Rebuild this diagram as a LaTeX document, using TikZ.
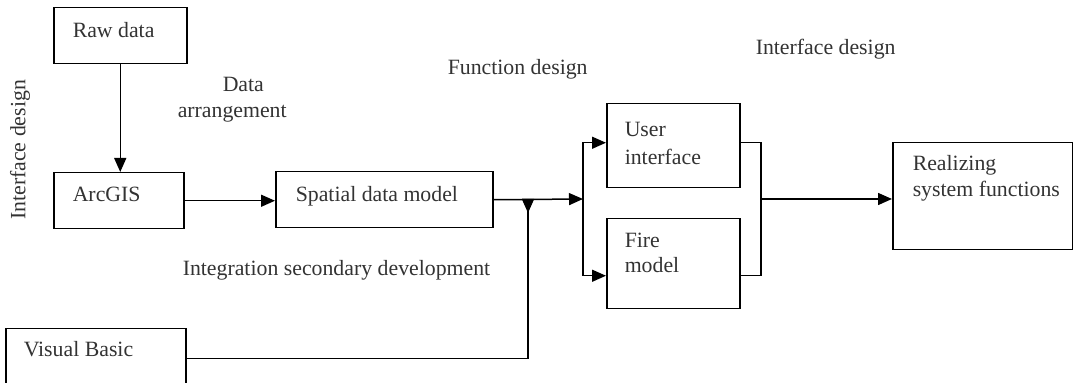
\documentclass[tikz,border=0pt]{standalone}
\usepackage{fontspec}
\setmainfont{Liberation Serif}
\usetikzlibrary{arrows.meta}
\definecolor{mytext}{gray}{0.2}
\begin{document}
\begin{tikzpicture}[x=0.5pt, y=-0.5pt, line width=0.75pt,
  box/.style={draw, anchor=north west, inner sep=0pt},
  lbl/.style={anchor=base west, text=mytext, inner sep=0pt, font=\fontsize{10.9}{13}\selectfont},
  arr/.style={-{Triangle[length=7pt, width=6pt]}},
  rarr/.style={-{Triangle[reversed, length=7pt, width=6pt]}}]
\useasboundingbox (0,0) rectangle (1073,383);
% boxes
\node[box, minimum width=66.5pt, minimum height=28pt] (raw) at (53,7) {};
\node[box, minimum width=65pt, minimum height=28pt] (arcgis) at (53,172) {};
\node[box, minimum width=108.5pt, minimum height=28pt] (spatial) at (275,171) {};
\node[box, minimum width=66.5pt, minimum height=42pt] (user) at (606,103) {};
\node[box, minimum width=66.5pt, minimum height=45pt] (fire) at (606,218) {};
\node[box, minimum width=90pt, minimum height=53.5pt] (realize) at (892,142) {};
\node[box, minimum width=90pt, minimum height=30pt] (vb) at (5,328) {};
% box texts
\node[lbl] at (72,38) {Raw data};
\node[lbl] at (72,202) {ArcGIS};
\node[lbl] at (295,202) {Spatial data model};
\node[lbl] at (624,137) {User};
\node[lbl] at (624,165) {interface};
\node[lbl] at (624,248) {Fire};
\node[lbl] at (624,273) {model};
\node[lbl] at (912,171) {Realizing};
\node[lbl] at (912,197) {system functions};
\node[lbl] at (23,357) {Visual Basic};
% stage labels
\node[lbl] (dat1) at (222,92) {Data};
\node[lbl] (dat2) at (177,118) {arrangement};
\node[lbl] (func) at (447,75) {Function design};
\node[lbl] (iface) at (755,55) {Interface design};
\node[lbl] (integ) at (182,276) {Integration secondary development};
\node[lbl, anchor=center, rotate=90] (iside) at (20,150) {Interface design};
% connectors
\coordinate (split) at (583,199);
\coordinate (merge) at (761,199);
\coordinate (vbin) at (528,199);
\draw[arr] (raw.south) -- (raw.south |- arcgis.north);
\draw[arr] (arcgis.east) -- (arcgis.east -| spatial.west);
\draw[arr] (spatial.east) -- (split);
\draw[arr] (split) |- ([yshift=1.5pt]user.west);
\draw[arr] (split) |- ([yshift=-6pt]fire.west);
\draw ([yshift=1.5pt]user.east) -| (merge);
\draw ([yshift=-6pt]fire.east) -| (merge);
\draw[arr] (merge) -- (merge -| realize.west);
\draw[rarr] (vb.east) -| (vbin);
\end{tikzpicture}
\end{document}
